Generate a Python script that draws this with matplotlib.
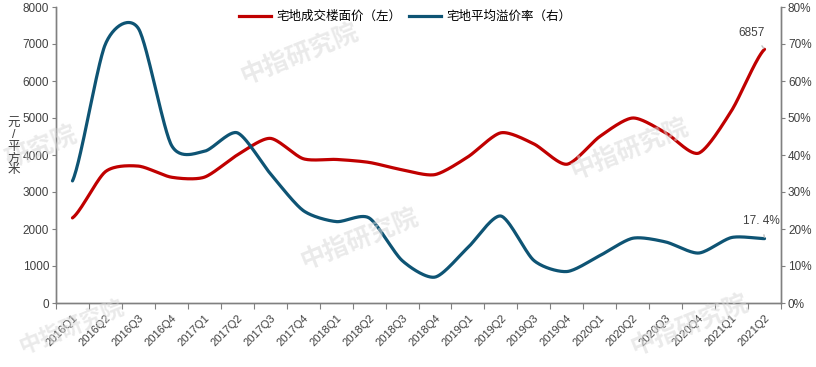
import numpy as np
import matplotlib
matplotlib.use("Agg")
import matplotlib.pyplot as plt
from matplotlib.lines import Line2D

plt.rcParams['font.family'] = ['Liberation Sans', 'Noto Sans CJK SC', 'DejaVu Sans']

quarters = ["2016Q1", "2016Q2", "2016Q3", "2016Q4", "2017Q1", "2017Q2", "2017Q3", "2017Q4",
            "2018Q1", "2018Q2", "2018Q3", "2018Q4", "2019Q1", "2019Q2", "2019Q3", "2019Q4",
            "2020Q1", "2020Q2", "2020Q3", "2020Q4", "2021Q1", "2021Q2"]
price = [2300, 3550, 3700, 3400, 3400, 4000, 4450, 3900, 3880, 3800, 3600, 3470,
         3950, 4600, 4300, 3750, 4500, 5000, 4600, 4050, 5200, 6857]
premium = [33.0, 70.0, 74.2, 42.7, 41.0, 46.0, 35.0, 25.0, 22.0, 23.0, 11.5, 7.0,
           15.0, 23.5, 11.5, 8.5, 12.8, 17.5, 16.5, 13.5, 17.7, 17.4]
legend_labels = ["宅地成交楼面价（左）", "宅地平均溢价率（右）"]
left_ticks = [0, 1000, 2000, 3000, 4000, 5000, 6000, 7000, 8000]
right_ticks = [0, 10, 20, 30, 40, 50, 60, 70, 80]

RED = "#C00000"
BLUE = "#0E5474"
GRAY = "#808080"


def smooth(x, y, n=30, tension=0.38):
    x = np.asarray(x, float)
    y = np.asarray(y, float)
    px = np.concatenate([[2 * x[0] - x[1]], x, [2 * x[-1] - x[-2]]])
    py = np.concatenate([[y[0]], y, [y[-1]]])
    xs, ys = [], []
    t = np.linspace(0, 1, n, endpoint=False)
    for i in range(1, len(px) - 2):
        p0, p1, p2, p3 = (np.array([px[j], py[j]]) for j in (i - 1, i, i + 1, i + 2))
        c1 = p1 + (p2 - p0) * tension / 3
        c2 = p2 - (p3 - p1) * tension / 3
        pts = ((1 - t) ** 3)[:, None] * p1 + (3 * (1 - t) ** 2 * t)[:, None] * c1 + \
              (3 * (1 - t) * t ** 2)[:, None] * c2 + (t ** 3)[:, None] * p2
        xs.append(pts[:, 0])
        ys.append(pts[:, 1])
    xs.append([x[-1]])
    ys.append([y[-1]])
    return np.concatenate(xs), np.concatenate(ys)


fig = plt.figure(figsize=(8.16, 3.67), dpi=100)
ax = fig.add_axes([56 / 816, 1 - 303 / 367, (781 - 56) / 816, (303 - 7) / 367])
ax2 = ax.twinx()

# watermarks
for (wx, wy, txt, fs) in [(300, 55, "中指研究院", 18), (42, 148, "研究院", 18),
                          (360, 240, "中指研究院", 18), (630, 150, "中指研究院", 18),
                          (72, 328, "中指研究院", 16), (690, 326, "中指研究院", 18)]:
    fig.text(wx / 816, 1 - wy / 367, txt, fontsize=fs, color="#d9d9d9", alpha=0.55,
             rotation=22, ha="center", va="center", fontweight="bold", zorder=0)

x = np.arange(len(quarters))
sx, sy = smooth(x, price)
ax.plot(sx, sy, color=RED, lw=2.3, solid_capstyle="round", zorder=3)
sx2, sy2 = smooth(x, premium)
ax2.plot(sx2, sy2, color=BLUE, lw=2.3, solid_capstyle="round", zorder=3)

ax.set_xlim(-0.5, len(quarters) - 0.5)
ax.set_ylim(0, 8000)
ax2.set_ylim(0, 80)
ax.set_yticks(left_ticks)
ax.set_yticklabels([str(v) for v in left_ticks], fontsize=8.5, color="#404040")
ax2.set_yticks(right_ticks)
ax2.set_yticklabels([f"{v}%" for v in right_ticks], fontsize=8.5, color="#404040")

ax.set_xticks(np.arange(len(quarters) + 1) - 0.5)
ax.set_xticklabels([])
ax.set_xticks(x, minor=True)
ax.set_xticklabels(quarters, minor=True, rotation=45, ha="right", va="top",
                   fontsize=8, color="#404040", rotation_mode="anchor")
ax.tick_params(axis="x", which="minor", length=0, pad=7)
ax.tick_params(axis="x", which="major", length=4, color=GRAY, direction="out")
ax.tick_params(axis="y", length=3, color=GRAY, pad=2)
ax2.tick_params(axis="y", length=3, color=GRAY, pad=2)

for a in (ax, ax2):
    a.spines["top"].set_visible(False)
    for s in ("left", "right", "bottom"):
        a.spines[s].set_color(GRAY)
        a.spines[s].set_linewidth(1.0)
ax.patch.set_alpha(0)

fig.text(14 / 816, 1 - 147 / 367, "元\n/\n平\n方\n米", fontsize=9, color="#404040",
         ha="center", va="center", linespacing=0.95)

ax.annotate("6857", xy=(x[-1], price[-1]), xytext=(-9, 12), textcoords="offset points",
            ha="center", va="center", fontsize=8.5, color="#404040",
            arrowprops=dict(arrowstyle="-", color="#bfbfbf", lw=1, shrinkA=4, shrinkB=1))
ax2.annotate("17. 4%", xy=(x[-1], premium[-1]), xytext=(-2, 13), textcoords="offset points",
             ha="center", va="center", fontsize=8.5, color="#404040",
             arrowprops=dict(arrowstyle="-", color="#bfbfbf", lw=1, shrinkA=4, shrinkB=1))

handles = [Line2D([0], [0], color=RED, lw=2.3), Line2D([0], [0], color=BLUE, lw=2.3)]
fig.legend(handles, legend_labels, loc="center", bbox_to_anchor=(405 / 816, 1 - 17 / 367),
           ncol=2, frameon=False, fontsize=9, handlelength=2.6, handletextpad=0.4,
           columnspacing=0.6)

fig.savefig("out.png", dpi=100)
